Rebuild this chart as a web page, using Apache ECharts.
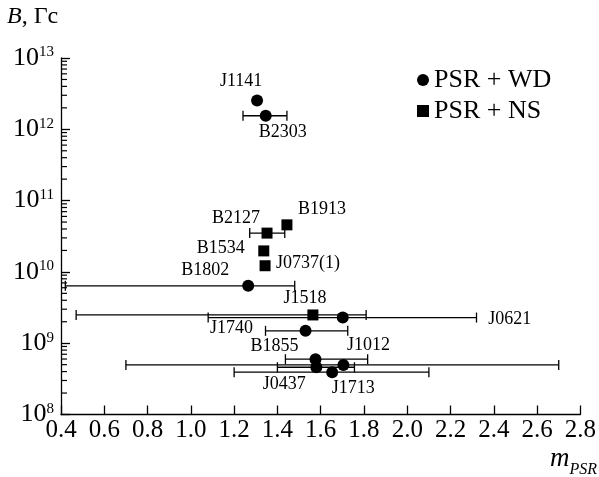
<!DOCTYPE html>
<html>
<head>
<meta charset="utf-8">
<script src="https://cdn.jsdelivr.net/npm/echarts@6/dist/echarts.min.js"></script>
<style>html,body{margin:0;padding:0;background:#fff}#c{width:599px;height:477px}</style>
</head>
<body>
<div id="c"></div>
<script>
// ---- data ----
const wdNames = ['J1141','B2303','B1802','J0621','J1740','B1855','J1012','J0437','J1713'];
const wdMass = [1.306,1.346,1.265,1.702,1.530,1.576,1.705,1.580,1.653];
const wdField = [2.54e12,1.55e12,6.37e9,2.29e9,1.49e9,5.96e8,4.95e8,4.60e8,3.92e8];
const wdMassLow = [null,1.241,0.42,1.08,1.345,1.437,0.70,1.40,1.20];
const wdMassHigh = [null,1.444,1.48,2.32,1.725,1.817,2.70,1.756,2.10];

const nsNames = ['B1913','B2127','B1534','J0737(1)','J1518'];
const nsMass = [1.444,1.352,1.337,1.343,1.564];
const nsField = [4.57e10,3.5e10,1.97e10,1.22e10,2.49e9];
const nsMassLow = [null,1.272,null,null,0.47];
const nsMassHigh = [null,1.434,null,null,1.81];

const xTicks = [0.4,0.6,0.8,1.0,1.2,1.4,1.6,1.8,2.0,2.2,2.4,2.6,2.8];
const yDecades = [8,9,10,11,12,13];
const minorMultipliers = [2,3,4,5,6,7,8,9];

// ---- layout (label offsets in px) ----
const labelOffset = {
  'J1141':[-16,-19],'B2303':[17,17],'B1802':[-43,-16],'J0621':[167,2],'J1740':[-74,-3],
  'B1855':[-41,-13],'J1012':[25,-20],'J0437':[-32,17],'J1713':[21,16],
  'B1913':[35,-16],'B2127':[-31,-15],'B1534':[-43,-3],'J0737(1)':[43,-2],'J1518':[-8,-17]
};

const FONT = 'Liberation Serif';

function pts(names, xs, ys){
  return names.map((n,i)=>({name:n, value:[xs[i], ys[i]],
    label:{offset:labelOffset[n]}}));
}
function errs(xs, lo, hi, ys){
  const out=[];
  for(let i=0;i<xs.length;i++){ if(lo[i]!=null) out.push([lo[i],hi[i],ys[i]]); }
  return out;
}
const minorData=[];
for(const d of yDecades.slice(0,-1)){ for(const m of minorMultipliers){ minorData.push([xTicks[0], m*Math.pow(10,d)]); } }

function errRender(params, api){
  const y = api.value(2);
  const p1 = api.coord([api.value(0), y]);
  const p2 = api.coord([api.value(1), y]);
  const h = 5;
  const st = {stroke:'#000', lineWidth:1.3};
  return {type:'group', children:[
    {type:'line', shape:{x1:p1[0],y1:p1[1],x2:p2[0],y2:p2[1]}, style:st},
    {type:'line', shape:{x1:p1[0],y1:p1[1]-h,x2:p1[0],y2:p1[1]+h}, style:st},
    {type:'line', shape:{x1:p2[0],y1:p2[1]-h,x2:p2[0],y2:p2[1]+h}, style:st}
  ]};
}
function minorRender(params, api){
  const p = api.coord([api.value(0), api.value(1)]);
  return {type:'line', shape:{x1:p[0],y1:p[1],x2:p[0]+6,y2:p[1]}, style:{stroke:'#000',lineWidth:1.2}};
}

const labelStyle = {show:true, position:'inside', formatter:'{b}', color:'#000',
  fontFamily:FONT, fontSize:18, align:'center', verticalAlign:'middle'};

const chart = echarts.init(document.getElementById('c'), null, {renderer:'canvas'});
chart.setOption({
  backgroundColor:'#fff',
  animation:false,
  grid:{left:61, right:17.5, top:58, bottom:62.5, containLabel:false},
  xAxis:{type:'value', min:0.4, max:2.8, interval:0.2,
    axisLine:{lineStyle:{color:'#000', width:1.3}},
    axisTick:{inside:true, length:9, lineStyle:{color:'#000', width:1.3}},
    splitLine:{show:false},
    axisLabel:{color:'#000', fontFamily:FONT, fontSize:25, margin:3,
      formatter:v=>v.toFixed(1)}
  },
  yAxis:{type:'log', logBase:10, min:1e8, max:1e13, splitNumber:5,
    axisLine:{show:true, lineStyle:{color:'#000', width:1.3}},
    axisTick:{show:true, inside:true, length:9, lineStyle:{color:'#000', width:1.3}},
    splitLine:{show:false},
    axisLabel:{margin:7, formatter:v=>'{b|10}{s|'+Math.round(Math.log10(v))+'}',
      rich:{b:{fontFamily:FONT, fontSize:26, color:'#000', lineHeight:26},
            s:{fontFamily:FONT, fontSize:15, color:'#000', verticalAlign:'top', lineHeight:15}}}
  },
  legend:{data:['PSR + WD','PSR + NS'], orient:'vertical', left:412, top:62,
    itemWidth:12, itemHeight:12, itemGap:5,
    textStyle:{fontFamily:FONT, fontSize:26, color:'#000'}},
  graphic:[
    {type:'text', left:7, top:5, style:{text:'{i|B}{n|, Гс}',
      rich:{i:{fontFamily:FONT, fontStyle:'italic', fontSize:24, fill:'#000'},
            n:{fontFamily:FONT, fontSize:24, fill:'#000'}}}},
    {type:'text', right:2, top:445, style:{text:'{m|m}{p|PSR}',
      rich:{m:{fontFamily:FONT, fontStyle:'italic', fontSize:27, fill:'#000', verticalAlign:'bottom'},
            p:{fontFamily:FONT, fontStyle:'italic', fontSize:16, fill:'#000', verticalAlign:'bottom', padding:[0,0,-6,0]}}}}
  ],
  series:[
    {type:'custom', name:'minor', silent:true, renderItem:minorRender, data:minorData, z:3},
    {type:'custom', name:'errWD', silent:true, renderItem:errRender, data:errs(wdMass,wdMassLow,wdMassHigh,wdField), encode:{x:[0,1], y:2}, z:3},
    {type:'custom', name:'errNS', silent:true, renderItem:errRender, data:errs(nsMass,nsMassLow,nsMassHigh,nsField), encode:{x:[0,1], y:2}, z:3},
    {type:'scatter', name:'PSR + WD', symbol:'circle', symbolSize:12, itemStyle:{color:'#000', opacity:1},
      label:labelStyle, data:pts(wdNames,wdMass,wdField), z:5},
    {type:'scatter', name:'PSR + NS', symbol:'rect', symbolSize:11, itemStyle:{color:'#000', opacity:1},
      label:labelStyle, data:pts(nsNames,nsMass,nsField), z:5}
  ]
});
</script>
</body>
</html>
